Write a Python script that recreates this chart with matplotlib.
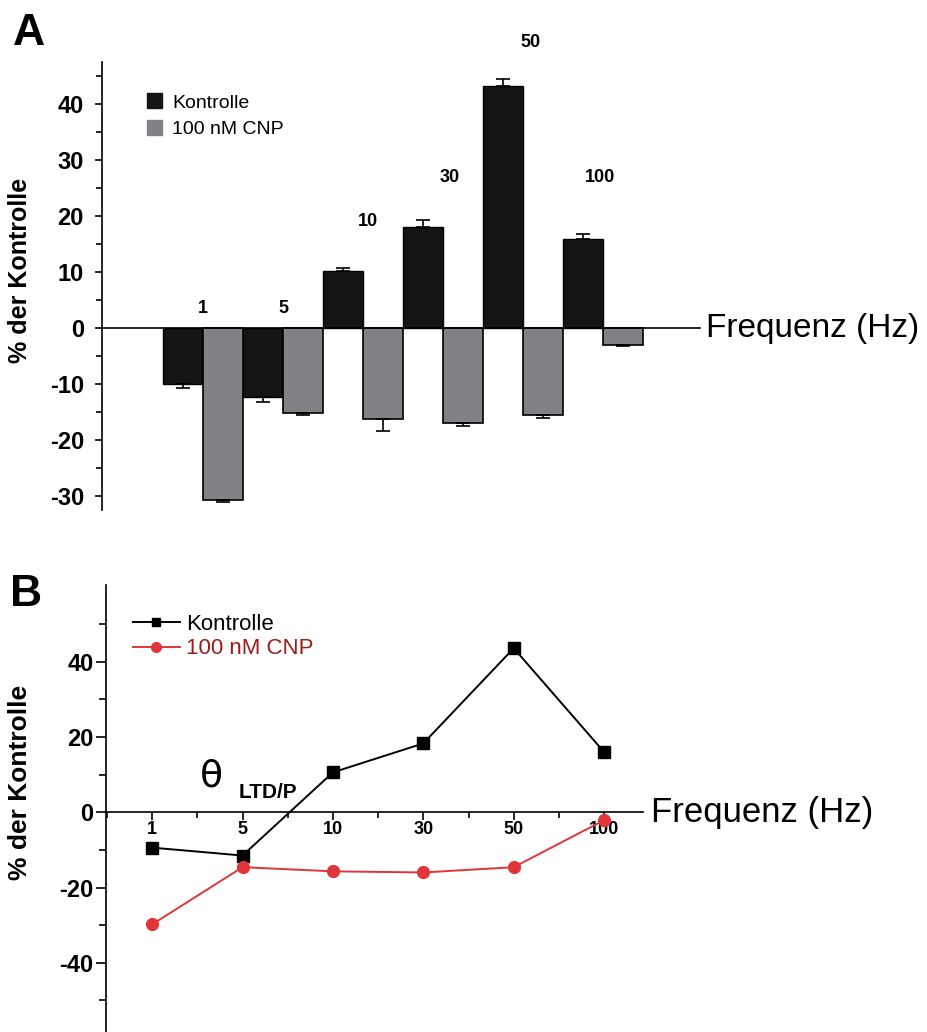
import numpy as np
import matplotlib
matplotlib.use("Agg")
import matplotlib.pyplot as plt
from matplotlib.patches import Patch
from matplotlib.lines import Line2D
from matplotlib.ticker import MultipleLocator, FixedLocator
from matplotlib.transforms import blended_transform_factory

plt.rcParams['font.family'] = ['Liberation Sans', 'DejaVu Sans']
plt.rcParams['axes.unicode_minus'] = False

# data
freqs = ['1', '5', '10', '30', '50', '100']
kontrolle = [-10.0, -12.3, 10.2, 18.0, 43.3, 15.9]
kontrolle_err = [0.8, 0.9, 0.6, 1.3, 1.2, 0.9]
cnp = [-30.7, -15.2, -16.2, -16.9, -15.5, -3.0]
cnp_err = [0.3, 0.3, 2.2, 0.6, 0.6, 0.3]

# panel B values
kontrolle_b = [-9.4, -11.5, 10.6, 18.3, 43.6, 16.0]
cnp_b = [-29.8, -14.6, -15.7, -16.0, -14.6, -2.1]

black = '#141416'
grey = '#808285'
red = '#e0363a'

fig = plt.figure(figsize=(9.28, 10.32), dpi=100)

# ---------------- panel A ----------------
axA = fig.add_axes([102/928, 1-510/1032, 598/928, 448/1032])
x = np.arange(len(freqs))
w = 0.5

def one_sided(vals, errs):
    lo = [e if v < 0 else 0 for v, e in zip(vals, errs)]
    hi = [e if v >= 0 else 0 for v, e in zip(vals, errs)]
    return [lo, hi]

axA.bar(x - w/2, kontrolle, w, color=black, edgecolor='black', linewidth=1.0, zorder=2)
axA.bar(x + w/2, cnp, w, color=grey, edgecolor='black', linewidth=1.2, zorder=2)
axA.errorbar(x - w/2, kontrolle, yerr=one_sided(kontrolle, kontrolle_err), fmt='none',
             ecolor='black', elinewidth=1.2, capsize=5, capthick=1.2, zorder=3)
axA.errorbar(x + w/2, cnp, yerr=one_sided(cnp, cnp_err), fmt='none',
             ecolor='black', elinewidth=1.2, capsize=5, capthick=1.2, zorder=3)

axA.set_xlim(-1.2625, 6.2125)
axA.set_ylim(-32.5, 47.5)
axA.spines['top'].set_visible(False)
axA.spines['right'].set_visible(False)
axA.spines['bottom'].set_position(('data', 0))
axA.spines['left'].set_linewidth(1.2)
axA.spines['bottom'].set_linewidth(1.2)
axA.set_xticks([])
axA.yaxis.set_major_locator(MultipleLocator(10))
axA.yaxis.set_minor_locator(MultipleLocator(5))
axA.tick_params(axis='y', which='major', length=5, width=1.2, labelsize=17, pad=8)
axA.tick_params(axis='y', which='minor', length=4, width=1.2)
for lab in axA.get_yticklabels():
    lab.set_fontweight('bold')

# frequency labels above the groups
lab_y = [3.4, 3.4, 19.0, 26.8, 51.0, 26.8]
lab_dx = [0.0, 0.0, 0.06, 0.08, 0.1, -0.04]
for k, (f, yy, dx) in enumerate(zip(freqs, lab_y, lab_dx)):
    axA.text(k + dx, yy, f, ha='center', va='center', fontsize=13, fontweight='bold', clip_on=False)

trA = blended_transform_factory(axA.transAxes, axA.transData)
axA.text(1.01, 0, 'Frequenz (Hz)', transform=trA, va='center', ha='left', fontsize=24)

axA.legend(handles=[Patch(facecolor=black, edgecolor=black, label='Kontrolle'),
                    Patch(facecolor=grey, edgecolor=grey, label='100 nM CNP')],
           loc='upper left', bbox_to_anchor=(0.075, 0.93), frameon=False,
           fontsize=14, handlelength=0.8, handleheight=0.8, handletextpad=0.5,
           labelspacing=0.45, borderpad=0, borderaxespad=0)

# ---------------- panel B ----------------
axB = fig.add_axes([106/928, 0.0, 537/928, 447/1032])
axB.plot(x, kontrolle_b, '-s', color='black', lw=1.4, ms=8, label='Kontrolle', zorder=3, clip_on=False)
axB.plot(x, cnp_b, '-o', color=red, lw=1.4, ms=8.5, label='100 nM CNP', zorder=3, clip_on=False)

axB.set_xlim(-0.51, 5.43)
axB.set_ylim(-58.4, 60.4)
axB.spines['top'].set_visible(False)
axB.spines['right'].set_visible(False)
axB.spines['bottom'].set_position(('data', 0))
axB.spines['left'].set_linewidth(1.2)
axB.spines['bottom'].set_linewidth(1.2)
axB.set_xticks(x)
axB.set_xticklabels(freqs, fontsize=13, fontweight='bold')
axB.xaxis.set_minor_locator(MultipleLocator(0.5))
axB.tick_params(axis='x', which='major', length=6, width=1.2, pad=0)
axB.tick_params(axis='x', which='minor', length=4, width=1.2)
axB.yaxis.set_major_locator(FixedLocator([-40, -20, 0, 20, 40]))
axB.yaxis.set_minor_locator(FixedLocator([-50, -30, -10, 10, 30, 50]))
axB.tick_params(axis='y', which='major', length=7, width=1.2, labelsize=17, pad=2)
axB.tick_params(axis='y', which='minor', length=5, width=1.2)
for lab in axB.get_yticklabels():
    lab.set_fontweight('bold')

trB = blended_transform_factory(axB.transAxes, axB.transData)
axB.text(1.015, 0, 'Frequenz (Hz)', transform=trB, va='center', ha='left', fontsize=25)

axB.text(0.66, 9.5, '\u03b8', fontsize=27, ha='center', va='center', family='DejaVu Sans')
axB.text(1.28, 5.3, 'LTD/P', fontsize=15, fontweight='bold', ha='center', va='center')

axB.legend(handles=[Line2D([], [], color='black', marker='s', lw=1.4, ms=6, label='Kontrolle'),
                    Line2D([], [], color=red, marker='o', lw=1.4, ms=7, label='100 nM CNP')],
           loc='upper left', bbox_to_anchor=(0.05, 0.935), frameon=False,
           fontsize=16, handlelength=2.1, handletextpad=0.3, labelspacing=0.15,
           borderpad=0, borderaxespad=0, labelcolor=['black', '#9b1c1c'])

# panel letters and y labels
fig.text(13/928, 1-45/1032, 'A', fontsize=32, fontweight='bold', va='baseline')
fig.text(10/928, 1-606/1032, 'B', fontsize=32, fontweight='bold', va='baseline')
fig.text(20/928, 1-270/1032, '% der Kontrolle', rotation=90, ha='center', va='center',
         fontsize=18, fontweight='bold')
fig.text(20/928, 1-782/1032, '% der Kontrolle', rotation=90, ha='center', va='center',
         fontsize=19, fontweight='bold')

fig.savefig('out.png', dpi=100)
